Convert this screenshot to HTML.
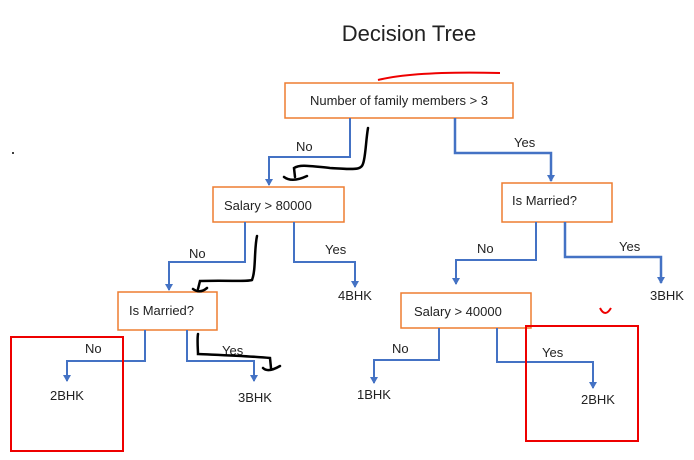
<!DOCTYPE html>
<html><head><meta charset="utf-8"><style>
html,body{margin:0;padding:0;background:#fff}
svg text{font-family:"Liberation Sans",sans-serif;fill:#222}
</style></head><body>
<svg width="694" height="455" viewBox="0 0 694 455" xmlns="http://www.w3.org/2000/svg">
<defs><marker id="a" markerWidth="8" markerHeight="8" refX="6" refY="4" orient="auto" markerUnits="userSpaceOnUse"><path d="M0,0 L7,4 L0,8 z" fill="#4472c4"/></marker></defs>
<text x="409" y="41" font-size="22" text-anchor="middle">Decision Tree</text>
<g fill="#fff" stroke="#ed7d31" stroke-width="1.5">
<rect x="285" y="83" width="228" height="35"/>
<rect x="213" y="187" width="131" height="35"/>
<rect x="502" y="183" width="110" height="39"/>
<rect x="118" y="292" width="99" height="38"/>
<rect x="401" y="293" width="130" height="35"/>
</g>
<g font-size="13">
<text x="399" y="105" text-anchor="middle">Number of family members &gt; 3</text>
<text x="224" y="210">Salary &gt; 80000</text>
<text x="512" y="205">Is Married?</text>
<text x="129" y="315">Is Married?</text>
<text x="414" y="316">Salary &gt; 40000</text>
<text x="296" y="151">No</text><text x="514" y="147">Yes</text>
<text x="189" y="258">No</text><text x="325" y="254">Yes</text>
<text x="477" y="253">No</text><text x="619" y="251">Yes</text>
<text x="85" y="353">No</text><text x="222" y="355">Yes</text>
<text x="392" y="353">No</text><text x="542" y="357">Yes</text>
<text x="50" y="400">2BHK</text><text x="238" y="402">3BHK</text>
<text x="338" y="300">4BHK</text><text x="650" y="300">3BHK</text>
<text x="357" y="399">1BHK</text><text x="581" y="404">2BHK</text>
</g>
<g fill="none" stroke="#4472c4" stroke-width="2">
<path d="M350,118 V157 H269 V185" marker-end="url(#a)"/>
<path d="M455,118 V153 H551 V181" marker-end="url(#a)" stroke-width="2.5"/>
<path d="M245,222 V262 H169 V290" marker-end="url(#a)"/>
<path d="M294,222 V262 H355 V287" marker-end="url(#a)"/>
<path d="M536,222 V260 H456 V284" marker-end="url(#a)"/>
<path d="M565,222 V257 H661 V283" marker-end="url(#a)" stroke-width="2.5"/>
<path d="M145,330 V361 H67 V381" marker-end="url(#a)"/>
<path d="M187,330 V361 H254 V381" marker-end="url(#a)"/>
<path d="M439,328 V360 H374 V383" marker-end="url(#a)"/>
<path d="M497,328 V362 H593 V388" marker-end="url(#a)"/>
</g>
<g fill="none" stroke="#000" stroke-width="2.5" stroke-linecap="round">
<path d="M368,128 C366,140 366,150 364,160 C362,170 360,170 330,168 C310,166 300,164 294,168 L295,177 M284,177 Q292,183 307,176"/>
<path d="M257,236 C254,250 256,270 252,280 C245,282 230,280 200,281 L198,289 M193,289 Q200,294 207,288"/>
<path d="M198,334 C197,340 198,350 198,354 C220,355 250,356 270,358 L271,368 M263,368 Q268,373 280,366"/>
</g>
<g fill="none" stroke="#e00" stroke-width="2">
<path d="M378,80 C410,72 460,72 500,73"/>
<rect x="11" y="337" width="112" height="114"/>
<rect x="526" y="326" width="112" height="115"/>
<path d="M600,308 Q605,318 611,308"/>
</g>
<circle cx="13" cy="153" r="1" fill="#000"/>
</svg>
</body></html>
